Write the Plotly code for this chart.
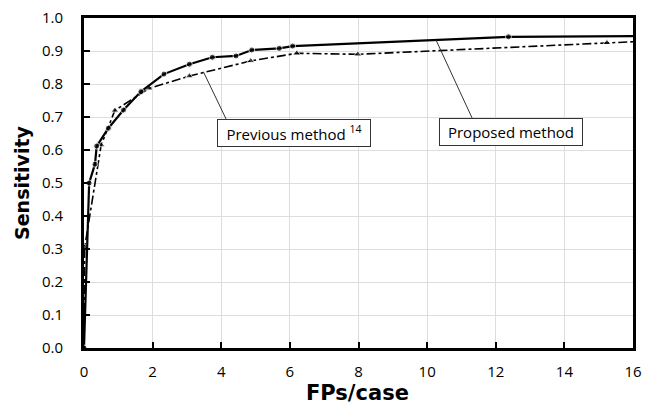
import plotly.graph_objects as go

# Proposed method (solid line, circles)
prop_x = [0, 0.15, 0.32, 0.37, 0.71, 1.15, 1.66, 2.33, 3.07, 3.74, 4.43, 4.89, 5.69, 6.08, 12.37, 16]
prop_y = [0, 0.50, 0.557, 0.612, 0.666, 0.721, 0.777, 0.830, 0.860, 0.881, 0.885, 0.903, 0.908, 0.915, 0.943, 0.945]
prop_marker = [True] * 15 + [False]

# Previous method (dash-dot line, triangles)
prev_x = [0, 0.02, 0.5, 0.9, 1.9, 3.07, 4.86, 6.2, 7.98, 15.24, 16]
prev_y = [0, 0.305, 0.615, 0.72, 0.787, 0.824, 0.870, 0.893, 0.890, 0.925, 0.928]
prev_marker = [True] * 10 + [False]

x_ticks = [0, 2, 4, 6, 8, 10, 12, 14, 16]
y_ticks = [0.0, 0.1, 0.2, 0.3, 0.4, 0.5, 0.6, 0.7, 0.8, 0.9, 1.0]
y_tick_labels = ["%.1f" % v for v in y_ticks]

fig = go.Figure()
fig.add_trace(go.Scatter(
    x=prev_x, y=prev_y, mode="lines+markers",
    line=dict(color="black", width=1.6, dash="dashdot"),
    marker=dict(symbol="triangle-up", color="black", size=[7 if m else 0 for m in prev_marker]),
    showlegend=False, cliponaxis=True))
fig.add_trace(go.Scatter(
    x=prop_x, y=prop_y, mode="lines+markers",
    line=dict(color="black", width=2.2),
    marker=dict(symbol="circle", color="black", size=[6 if m else 0 for m in prop_marker]),
    showlegend=False, cliponaxis=True))

# leader lines
fig.add_shape(type="line", x0=3.48, y0=0.837, x1=4.14, y1=0.694, line=dict(color="#333", width=1))
fig.add_shape(type="line", x0=10.26, y0=0.933, x1=11.31, y1=0.697, line=dict(color="#333", width=1))

fig.add_annotation(x=6.12, y=0.653, text="Previous method <sup>14</sup>", showarrow=False,
                   font=dict(family="Open Sans", size=15, color="black"),
                   bgcolor="white", bordercolor="#333", borderwidth=1, width=150, height=24)
fig.add_annotation(x=12.45, y=0.656, text="Proposed method", showarrow=False,
                   font=dict(family="Open Sans", size=15, color="black"),
                   bgcolor="white", bordercolor="#333", borderwidth=1, width=140, height=24)

# axis titles
fig.add_annotation(xref="paper", yref="paper", x=-0.113, y=0.5, xanchor="center", yanchor="middle",
                   text="<b>Sensitivity</b>", textangle=-90,
                   showarrow=False, font=dict(family="DejaVu Sans", size=19, color="black"))
fig.add_annotation(xref="paper", yref="paper", x=0.499, y=-0.136, xanchor="center", yanchor="middle",
                   text="<b>FPs/case</b>",
                   showarrow=False, font=dict(family="DejaVu Sans", size=21, color="black"))

fig.update_layout(
    width=650, height=409,
    margin=dict(l=84, r=17, t=18, b=61),
    paper_bgcolor="white", plot_bgcolor="white",
    font=dict(family="Open Sans", size=15, color="black"),
    xaxis=dict(range=[0, 16], tickvals=x_ticks, ticks="inside", ticklen=6, tickwidth=2, tickcolor="black",
               showline=True, linecolor="black", linewidth=3, mirror=True, automargin=False,
               showgrid=True, gridcolor="#dddddd", gridwidth=1, zeroline=False,
               ticklabelstandoff=8, tickfont=dict(size=15)),
    yaxis=dict(range=[0, 1.0], tickvals=y_ticks, ticktext=y_tick_labels, ticks="inside", ticklen=6, tickwidth=2,
               tickcolor="black", showline=True, linecolor="black", linewidth=3, mirror=True, automargin=False,
               showgrid=True, gridcolor="#dddddd", gridwidth=1, zeroline=False,
               ticklabelstandoff=15, tickfont=dict(size=15)),
)

fig.write_html("out.html", config={"displayModeBar": False},
               post_script="document.body.style.margin='0';")
